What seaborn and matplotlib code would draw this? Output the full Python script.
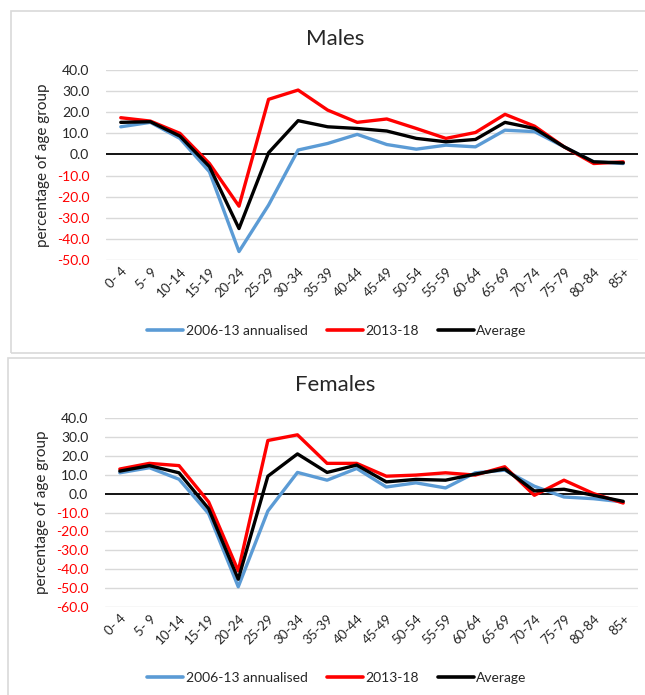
import numpy as np
import pandas as pd
import seaborn as sns
import matplotlib.pyplot as plt
from matplotlib.patches import Rectangle
from matplotlib.lines import Line2D

sns.set_style('white')
plt.rcParams['font.family'] = ['Lato', 'DejaVu Sans']

age_groups = ['0- 4', '5- 9', '10-14', '15-19', '20-24', '25-29', '30-34', '35-39', '40-44',
              '45-49', '50-54', '55-59', '60-64', '65-69', '70-74', '75-79', '80-84', '85+']
series_names = ['2006-13 annualised', '2013-18', 'Average']
colors = ['#5B9BD5', '#FF0000', '#000000']

males_0613 = [13.1, 15.2, 7.6, -8.2, -46.0, -24.0, 2.1, 5.2, 9.5, 4.7, 2.5, 4.4, 3.6, 11.5, 10.8, 3.6, -3.5, -4.3]
males_1318 = [17.4, 15.8, 10.0, -4.3, -24.5, 26.1, 30.5, 21.0, 15.2, 16.8, 12.3, 7.6, 10.4, 19.0, 13.4, 3.6, -4.3, -3.5]
males_avg = [15.2, 15.5, 8.7, -5.8, -35.1, 0.8, 16.0, 13.1, 12.3, 11.1, 7.6, 6.0, 7.1, 15.2, 12.3, 3.6, -3.5, -4.0]

females_0613 = [11.0, 13.7, 7.6, -10.6, -49.3, -9.2, 11.2, 7.1, 13.3, 3.5, 5.7, 3.0, 11.0, 12.4, 3.9, -1.8, -2.7, -4.4]
females_1318 = [13.0, 16.0, 14.8, -4.4, -40.9, 28.1, 31.1, 16.0, 16.0, 9.2, 9.8, 11.0, 9.8, 14.2, -0.9, 7.1, 0.0, -5.0]
females_avg = [11.9, 14.8, 11.0, -8.0, -45.3, 9.2, 21.0, 11.2, 15.1, 6.2, 7.5, 7.1, 10.3, 13.0, 1.4, 2.3, -0.9, -4.1]

W, H = 645, 695
fig = plt.figure(figsize=(W / 100, H / 100), dpi=100)

# light grey chart borders, like the excel chart areas
fig.patches.append(Rectangle((11 / W, 1 - 353 / H), 640 / W, 342 / H, transform=fig.transFigure,
                             fill=False, edgecolor='#d9d9d9', lw=1.2))
fig.patches.append(Rectangle((8 / W, 1 - 700 / H), 645 / W, 342 / H, transform=fig.transFigure,
                             fill=False, edgecolor='#d9d9d9', lw=1.2))


def make_df(a, b, c):
    frames = []
    for name, vals in zip(series_names, [a, b, c]):
        frames.append(pd.DataFrame({'age': age_groups, 'value': vals, 'series': name}))
    return pd.concat(frames, ignore_index=True)


def draw_panel(rect, df, title, ymin, ymax, title_y, legend_y):
    ax = fig.add_axes(rect)
    sns.lineplot(data=df, x='age', y='value', hue='series', palette=colors, hue_order=series_names,
                 linewidth=2.4, sort=False, legend=False, ax=ax)
    ax.set_xlim(-0.5, len(age_groups) - 0.5)
    ax.set_ylim(ymin, ymax)
    ticks = np.arange(ymin, ymax + 1, 10)
    ax.set_yticks(ticks)
    ax.set_yticklabels(['%.1f' % t for t in ticks], fontsize=10)
    for lab, t in zip(ax.get_yticklabels(), ticks):
        if t < 0:
            lab.set_color('#FF0000')
    ax.set_xticks(range(len(age_groups)))
    ax.set_xticklabels(age_groups, rotation=45, ha='right', rotation_mode='anchor', fontsize=9.5)
    ax.tick_params(axis='y', length=0, pad=12)
    ax.tick_params(axis='x', length=0, pad=4)
    for t in ticks:
        if t != 0:
            ax.axhline(t, color='#d9d9d9', lw=1, zorder=0)
    ax.axhline(0, color='black', lw=1.3, zorder=1)
    sns.despine(ax=ax, left=True, bottom=True)
    ax.set_xlabel('')
    ax.set_ylabel('percentage of age group', fontsize=11)
    ax.yaxis.set_label_coords(-0.105, 0.5)
    fig.text(335 / W, 1 - title_y / H, title, fontsize=16, ha='center', va='center')
    handles = [Line2D([], [], color=c, lw=2.6) for c in colors]
    fig.legend(handles, series_names, loc='center', bbox_to_anchor=(337 / W, 1 - legend_y / H),
               ncol=3, frameon=False, fontsize=10, handlelength=2.6, handletextpad=0.15,
               columnspacing=1.4)
    return ax


draw_panel([106 / W, 1 - 260 / H, 532 / W, 190 / H], make_df(males_0613, males_1318, males_avg),
           'Males', -50, 40, 39, 331)
draw_panel([105 / W, 1 - 607 / H, 533 / W, 189 / H], make_df(females_0613, females_1318, females_avg),
           'Females', -60, 40, 385, 678)

fig.savefig('out.png', dpi=100)
